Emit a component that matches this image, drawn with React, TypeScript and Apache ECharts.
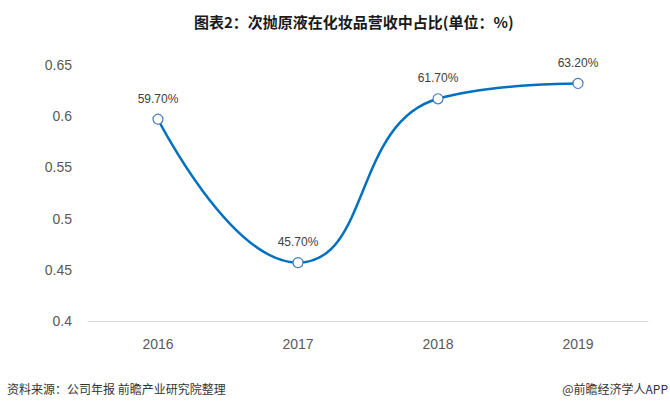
import { useEffect, useRef } from "react";
import * as echarts from "echarts";

const years = ["2016", "2017", "2018", "2019"];
const shareValues = [0.597, 0.457, 0.617, 0.632];
const yTicks = { min: 0.4, max: 0.65, interval: 0.05 };

const numFont = "Arial, 'Liberation Sans', 'Noto Sans CJK SC', sans-serif";
const cjkFont = "'Microsoft YaHei', 'Noto Sans CJK SC', sans-serif";

export default function App() {
  const ref = useRef<HTMLDivElement | null>(null);

  useEffect(() => {
    document.body.style.margin = "0";
    if (!ref.current) return;
    const chart = echarts.init(ref.current, undefined, { renderer: "svg" });
    chart.setOption({
      animation: false,
      backgroundColor: "#ffffff",
      title: {
        text: "图表2：次抛原液在化妆品营收中占比(单位：%)",
        left: 189,
        top: 9,
        textStyle: { fontFamily: cjkFont, fontSize: 15, fontWeight: "bold", color: "#1a1a1a" },
      },
      graphic: [
        {
          type: "text",
          left: 7,
          top: 382,
          style: { text: "资料来源：公司年报 前瞻产业研究院整理", fontFamily: cjkFont, fontSize: 12, fill: "#333333" },
        },
        {
          type: "text",
          right: 2,
          top: 382,
          style: { text: "@前瞻经济学人APP", fontFamily: cjkFont, fontSize: 12, fill: "#333333" },
        },
      ],
      grid: { left: 88, right: 22, top: 65, bottom: 90 },
      xAxis: {
        type: "category",
        data: years,
        boundaryGap: true,
        axisLine: { lineStyle: { color: "#d9d9d9", width: 1 } },
        axisTick: { show: false },
        axisLabel: { margin: 16, fontSize: 14, color: "#595959", fontFamily: numFont },
      },
      yAxis: {
        type: "value",
        min: yTicks.min,
        max: yTicks.max,
        interval: yTicks.interval,
        axisLine: { show: false },
        axisTick: { show: false },
        splitLine: { show: false },
        axisLabel: { margin: 16, fontSize: 14, color: "#595959", fontFamily: numFont },
      },
      series: [
        {
          type: "line",
          data: shareValues,
          smooth: 0.5,
          symbol: "circle",
          symbolSize: 10,
          lineStyle: { color: "#0070c0", width: 2.5 },
          itemStyle: { color: "#ffffff", borderColor: "#4a7ebb", borderWidth: 1.2 },
          label: {
            show: true,
            position: "top",
            distance: 9,
            fontSize: 12,
            color: "#404040",
            fontFamily: numFont,
            formatter: (p: any) => (p.value * 100).toFixed(2) + "%",
          },
        },
      ],
    });
    return () => chart.dispose();
  }, []);

  return <div ref={ref} style={{ width: 670, height: 411 }} />;
}
